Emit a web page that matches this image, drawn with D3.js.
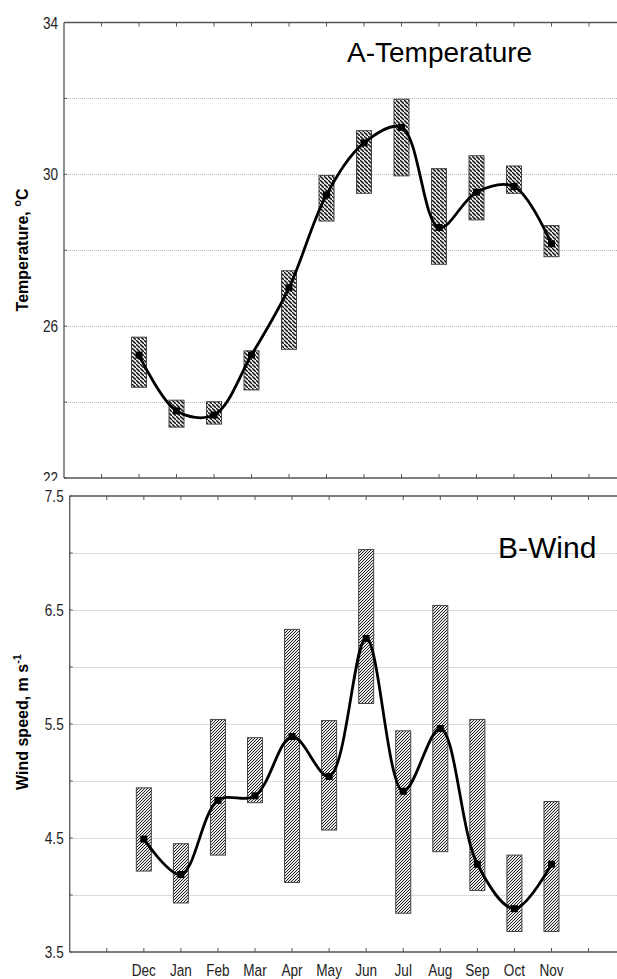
<!DOCTYPE html>
<html>
<head>
<meta charset="utf-8">
<script src="https://cdn.jsdelivr.net/npm/d3@7"></script>
<style>
  body { margin: 0; background: #fff; }
  svg { display: block; }
  .tick-label { font-family: "Liberation Sans Narrow", "Arial Narrow", "Liberation Sans", sans-serif; font-size: 17px; fill: #222; }
</style>
</head>
<body>
<div id="chart"></div>
<script>
// month categories (x positions 2..13 on a 0..15 axis)
var months = ['Dec', 'Jan', 'Feb', 'Mar', 'Apr', 'May', 'Jun', 'Jul', 'Aug', 'Sep', 'Oct', 'Nov'];

// A - temperature, deg C
var tempMean = [25.24, 23.77, 23.66, 25.24, 27.01, 29.46, 30.83, 31.24, 28.60, 29.53, 29.68, 28.17];
var tempHigh = [25.71, 24.05, 24.01, 25.35, 27.46, 29.97, 31.15, 31.98, 30.15, 30.49, 30.22, 28.65];
var tempLow  = [24.39, 23.34, 23.42, 24.32, 25.39, 28.77, 29.50, 29.96, 27.63, 28.80, 29.50, 27.83];

// B - wind speed, m/s
var windMean = [4.49, 4.18, 4.83, 4.87, 5.39, 5.04, 6.25, 4.91, 5.46, 4.27, 3.88, 4.27];
var windHigh = [4.94, 4.45, 5.54, 5.38, 6.33, 5.53, 7.03, 5.44, 6.54, 5.54, 4.35, 4.82];
var windLow  = [4.21, 3.93, 4.35, 4.81, 4.11, 4.57, 5.68, 3.84, 4.38, 4.04, 3.68, 3.68];

var tempTicks = [22, 24, 26, 28, 30, 32, 34];
var tempLabels = [22, 26, 30, 34];
var windTicks = [3.5, 4, 4.5, 5, 5.5, 6, 6.5, 7, 7.5];
var windLabels = [3.5, 4.5, 5.5, 6.5, 7.5];

var width = 617, height = 979;
var squeeze = 0.8; // narrow look for tick labels

var svg = d3.select('#chart').append('svg')
    .attr('width', width)
    .attr('height', height);

var defs = svg.append('defs');

// hatch patterns: "\" for top panel, "/" for bottom panel
var p1 = defs.append('pattern')
    .attr('id', 'hatchA')
    .attr('patternUnits', 'userSpaceOnUse')
    .attr('width', 4).attr('height', 4);
p1.append('rect').attr('width', 4).attr('height', 4).attr('fill', '#e8e8e8');
p1.append('path')
    .attr('d', 'M-1,-1 l2,2 M0,0 l4,4 M3,3 l2,2')
    .attr('stroke', '#111').attr('stroke-width', 1.4);

var p2 = defs.append('pattern')
    .attr('id', 'hatchB')
    .attr('patternUnits', 'userSpaceOnUse')
    .attr('width', 3).attr('height', 3);
p2.append('rect').attr('width', 3).attr('height', 3).attr('fill', '#e8e8e8');
p2.append('path')
    .attr('d', 'M0,3 l3,-3 M-1,1 l2,-2 M2,4 l2,-2')
    .attr('stroke', '#222').attr('stroke-width', 1);

function panel(opt) {
  var g = svg.append('g');
  var x = d3.scaleLinear().domain([0, 15]).range([opt.left, opt.left + 15 * opt.step]);
  var y = d3.scaleLinear().domain(opt.domain).range([opt.bottom, opt.top]);

  if (opt.cover) {
    g.append('rect')
        .attr('x', 0).attr('y', opt.cover)
        .attr('width', width).attr('height', height - opt.cover)
        .attr('fill', '#fff');
  }

  // gridlines
  g.selectAll('.grid').data(opt.ticks.filter(function(t) {
    return t != opt.domain[0] && t != opt.domain[1];
  }))
    .enter().append('line')
      .attr('x1', opt.left).attr('x2', width)
      .attr('y1', function(d) { return Math.round(y(d)) + 0.5; })
      .attr('y2', function(d) { return Math.round(y(d)) + 0.5; })
      .attr('stroke', '#b5b5b5')
      .attr('stroke-dasharray', '1,1');

  // frame
  var frame = g.append('g').attr('stroke', '#555').attr('stroke-width', 1.3);
  frame.append('line').attr('x1', opt.left).attr('x2', width + 20)
      .attr('y1', opt.top).attr('y2', opt.top);
  frame.append('line').attr('x1', opt.left).attr('x2', width + 20)
      .attr('y1', opt.bottom).attr('y2', opt.bottom);
  frame.append('line').attr('x1', opt.left).attr('x2', opt.left)
      .attr('y1', opt.top).attr('y2', opt.bottom);

  // x ticks on top and bottom edges, pointing inward
  var xt = d3.range(1, 16);
  g.selectAll('.xtt').data(xt).enter().append('line')
      .attr('x1', function(d) { return x(d); }).attr('x2', function(d) { return x(d); })
      .attr('y1', opt.top).attr('y2', opt.top + 4)
      .attr('stroke', '#555');
  g.selectAll('.xtb').data(xt).enter().append('line')
      .attr('x1', function(d) { return x(d); }).attr('x2', function(d) { return x(d); })
      .attr('y1', opt.bottom).attr('y2', opt.bottom - 4)
      .attr('stroke', '#555');

  // y ticks pointing inward
  g.selectAll('.yt').data(opt.ticks).enter().append('line')
      .attr('x1', opt.left).attr('x2', opt.left + 3)
      .attr('y1', function(d) { return y(d); }).attr('y2', function(d) { return y(d); })
      .attr('stroke', '#555');

  g.selectAll('.yl').data(opt.labels).enter().append('text')
      .attr('class', 'tick-label')
      .attr('transform', function(d) {
        return 'translate(' + (opt.left - 6) + ',' + (y(d) + 6) + ') scale(' + squeeze + ',1)';
      })
      .attr('text-anchor', 'end')
      .text(function(d) { return opt.fmt(d); });

  // boxes
  g.selectAll('.box').data(months).enter().append('rect')
      .attr('x', function(d, i) { return x(i + 2) - 7.5; })
      .attr('width', 15)
      .attr('y', function(d, i) { return y(opt.high[i]); })
      .attr('height', function(d, i) { return y(opt.low[i]) - y(opt.high[i]); })
      .attr('fill', 'url(#' + opt.pattern + ')')
      .attr('stroke', '#444')
      .attr('stroke-width', 1);

  // smooth line through means
  var line = d3.line()
      .x(function(d, i) { return x(i + 2); })
      .y(function(d) { return y(d); })
      .curve(d3.curveCatmullRom.alpha(0.5));
  g.append('path')
      .datum(opt.mean)
      .attr('d', line)
      .attr('fill', 'none')
      .attr('stroke', '#000')
      .attr('stroke-width', 2.8);

  g.selectAll('.pt').data(opt.mean).enter().append('rect')
      .attr('x', function(d, i) { return x(i + 2) - 3.5; })
      .attr('y', function(d) { return y(d) - 3.5; })
      .attr('width', 7).attr('height', 7)
      .attr('fill', '#000');

  // panel title
  g.append('text')
      .attr('x', opt.titleX).attr('y', opt.titleY)
      .attr('font-family', 'Liberation Sans, Arial, sans-serif')
      .attr('font-size', opt.titleSize)
      .attr('fill', '#000')
      .text(opt.title);

  return {g: g, x: x, y: y};
}

var top = panel({
  left: 64, step: 37.5, top: 22.5, bottom: 478,
  domain: [22, 34], ticks: tempTicks, labels: tempLabels,
  fmt: function(d) { return d; },
  high: tempHigh, low: tempLow, mean: tempMean, pattern: 'hatchA',
  title: 'A-Temperature', titleX: 347, titleY: 62, titleSize: 28
});

var bot = panel({
  left: 69.7, step: 37.06, top: 496, bottom: 952,
  domain: [3.5, 7.5], ticks: windTicks, labels: windLabels,
  fmt: d3.format('.1f'),
  high: windHigh, low: windLow, mean: windMean, pattern: 'hatchB',
  title: 'B-Wind', titleX: 498, titleY: 558, titleSize: 30, cover: 481
});

// month labels under bottom panel
svg.selectAll('.mon').data(months).enter().append('text')
    .attr('class', 'tick-label')
    .attr('transform', function(d, i) {
      return 'translate(' + bot.x(i + 2) + ',976) scale(' + squeeze + ',1)';
    })
    .attr('text-anchor', 'middle')
    .text(function(d) { return d; });

// y axis titles
var t1 = svg.append('text')
    .attr('transform', 'translate(28,250) rotate(-90)')
    .attr('text-anchor', 'middle')
    .attr('font-family', 'Liberation Sans, Arial, sans-serif')
    .attr('font-weight', 'bold')
    .attr('font-size', 16);
t1.append('tspan').text('Temperature, ');
t1.append('tspan').attr('font-size', 11).attr('dy', -7).text('o');
t1.append('tspan').attr('dy', 7).text('C');

var t2 = svg.append('text')
    .attr('transform', 'translate(28,722) rotate(-90)')
    .attr('text-anchor', 'middle')
    .attr('font-family', 'Liberation Sans, Arial, sans-serif')
    .attr('font-weight', 'bold')
    .attr('font-size', 16);
t2.append('tspan').text('Wind speed, m s');
t2.append('tspan').attr('font-size', 11).attr('dy', -7).text('-1');
</script>
</body>
</html>
